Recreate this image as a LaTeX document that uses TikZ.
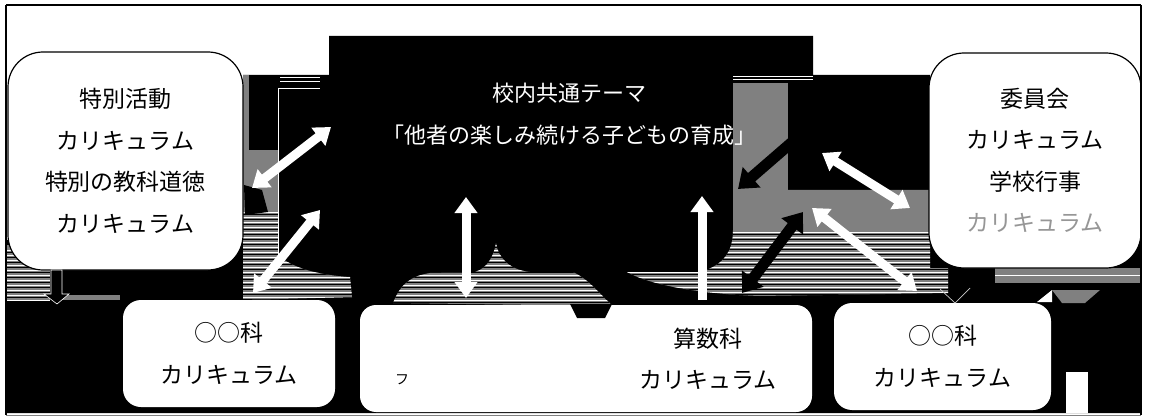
\documentclass[tikz,border=0pt]{standalone}
\usepackage{fontspec}
\newfontfamily\jpsans{Noto Sans CJK JP}
\usetikzlibrary{arrows.meta}
\definecolor{midgray}{RGB}{128,128,128}
\definecolor{fadegray}{RGB}{150,150,150}
\begin{document}
\begin{tikzpicture}[x=1pt,y=-1pt,
  wbox/.style={fill=white, inner sep=0pt, align=center, text=black, font=\jpsans\fontsize{23}{41.5}\selectfont},
  warrow/.style={draw=white, line width=9pt, {Triangle[length=16pt,width=22pt]}-{Triangle[length=16pt,width=22pt]}},
  wuparrow/.style={draw=white, line width=9pt, -{Triangle[length=16pt,width=22pt]}},
  barrow/.style={draw=black, line width=11pt, {Triangle[length=18pt,width=26pt]}-{Triangle[length=18pt,width=26pt]}},
  stripew/.style={white, line width=0.8pt},
  stripeb/.style={black, line width=0.8pt},
]
\useasboundingbox (0,0) rectangle (1149,417);
\fill[white] (0,0) rectangle (1149,417);

% black field
\fill[black] (329,36) -- (813,36) -- (813,75) -- (930,75) -- (930,240) -- (1141,240) -- (1141,413) -- (6,413) -- (6,240) -- (243,240) -- (243,75) -- (329,75) -- cycle;

% left grey
\fill[midgray] (243,75) rectangle (249,150);
\begin{scope}
\clip (243,150) -- (278,150) -- (278,255) .. controls (292,268) and (318,275) .. (350,277) -- (352,297) -- (243,300) -- cycle;
\fill[midgray] (243,150) rectangle (360,300);
\foreach \yy in {212,217,...,297} { \draw[stripew] (243,\yy) -- (360,\yy); \draw[stripeb] (243,\yy+2) -- (360,\yy+2); }
\end{scope}
\fill[black] (244,185) -- (262,190) -- (268,212) -- (245,215) -- cycle;
\draw[white, line width=0.8pt] (278,88) -- (278,256);
\draw[white, line width=0.6pt] (280,77) -- (320,77) (280,81) -- (320,81) (279,88) -- (320,88);
\draw[white, line width=0.6pt] (733,76) -- (813,76) (733,79) -- (813,79);

% below left box
\begin{scope}
\clip (6,245) rectangle (50,300);
\fill[midgray] (6,245) rectangle (50,300);
\foreach \yy in {250,255,...,300} { \draw[stripew] (6,\yy) -- (50,\yy); \draw[stripeb] (6,\yy+2) -- (50,\yy+2); }
\end{scope}
\fill[midgray] (63,295) rectangle (120,300);

% right grey
\fill[midgray] (733,83) rectangle (788,235);
\begin{scope}
\clip (733,190) -- (930,190) -- (930,268) -- (948,268) -- (948,293) -- (760,296) .. controls (700,294) and (650,285) .. (627,272) -- (700,272) .. controls (725,265) and (733,250) .. (733,230) -- cycle;
\fill[midgray] (620,180) rectangle (950,300);
\foreach \yy in {232,237,...,297} { \draw[stripew] (620,\yy) -- (950,\yy); \draw[stripeb] (620,\yy+2) -- (950,\yy+2); }
\end{scope}

% middle tent
\begin{scope}
\clip (393,303) .. controls (400,285) and (410,276) .. (430,273) -- (475,272) .. controls (488,268) and (494,255) .. (496,243) .. controls (498,258) and (510,270) .. (530,272) -- (573,272) .. controls (590,280) and (600,295) .. (613,306) -- cycle;
\fill[midgray] (390,240) rectangle (615,310);
\foreach \yy in {245,250,...,305} { \draw[stripew] (390,\yy) -- (615,\yy); \draw[stripeb] (390,\yy+2) -- (615,\yy+2); }
\end{scope}

% right bottom bits
\fill[midgray] (995,268) rectangle (1141,283);
\draw[white, line width=0.6pt] (995,275) -- (1141,275);
\fill[midgray] (1052,290) -- (1100,290) -- (1085,303) -- (1062,303) -- cycle;
\fill[white] (1037,302) -- (1052,290) -- (1052,302) -- cycle;
\fill[white] (1066,372) rectangle (1088,413);

% boxes
\node[wbox, draw=black, line width=1.2pt, rounded corners=35pt, minimum width=235pt, minimum height=218pt] (L) at (125.5,161) {特別活動\\カリキュラム\\特別の教科道徳\\カリキュラム};
\node[wbox, draw=black, line width=1.2pt, rounded corners=35pt, minimum width=212pt, minimum height=215pt] (R) at (1035,160.5) {委員会\\カリキュラム\\学校行事\\\textcolor{fadegray}{カリキュラム}};
\node[wbox, rounded corners=18pt, minimum width=212pt, minimum height=107pt] (A) at (229,353.5) {○○科\\カリキュラム};
\node[wbox, rounded corners=16pt, minimum width=452pt, minimum height=107pt] (BC) at (586,358.5) {};
\node[wbox] (S) at (708,359) {算数科\\カリキュラム};
\node[text=black, font=\jpsans\fontsize{14}{14}\selectfont] (frag) at (402,380) {フ};
\node[wbox, rounded corners=18pt, minimum width=217pt, minimum height=107pt] (D) at (942.5,356.5) {○○科\\カリキュラム};
\fill[black] (570,304) -- (612,304) -- (605,318) -- (577,318) -- cycle;

% theme
\node[text=white, align=center, font=\jpsans\fontsize{22}{42}\selectfont] (T) at (569,114) {校内共通テーマ\\「他者の楽しみ続ける子どもの育成」};

% arrows
\coordinate (a1s) at (252,188); \coordinate (a1e) at (331,127);
\coordinate (a2s) at (253,293); \coordinate (a2e) at (320,210);
\coordinate (a3s) at (466,298); \coordinate (a3e) at (466,197);
\coordinate (a4s) at (702,300); \coordinate (a4e) at (702,196);
\coordinate (a5s) at (822,153); \coordinate (a5e) at (910,208);
\coordinate (a6s) at (812,208); \coordinate (a6e) at (917,291);
\coordinate (b1s) at (813,124); \coordinate (b1e) at (738,189);
\coordinate (b2s) at (742,293); \coordinate (b2e) at (803,212);
\draw[barrow] (b1s) -- (b1e);
\draw[barrow] (b2s) -- (b2e);
\draw[warrow] (a1s) -- (a1e);
\draw[warrow] (a2s) -- (a2e);
\draw[warrow] (a3s) -- (a3e);
\draw[wuparrow] (a4s) -- (a4e);
\draw[warrow] (a5s) -- (a5e);
\draw[warrow] (a6s) -- (a6e);

% down arrows
\fill[black, draw=white, line width=0.6pt] (51,270) -- (62,270) -- (62,294) -- (69,294) -- (57,304) -- (44,294) -- (51,294) -- cycle;
\fill[black] (949,268) rectangle (962,292);
\draw[white!80!black, line width=0.7pt] (940,289) -- (955,303) -- (970,288);

% frame
\draw[black, line width=2pt] (6,5) -- (1141,5);
\draw[black, line width=1.5pt] (6,5) -- (6,415);
\draw[black, line width=1.5pt] (1141,5) -- (1141,415);
\draw[gray, line width=1pt] (6,415) -- (1141,415);
\end{tikzpicture}
\end{document}
